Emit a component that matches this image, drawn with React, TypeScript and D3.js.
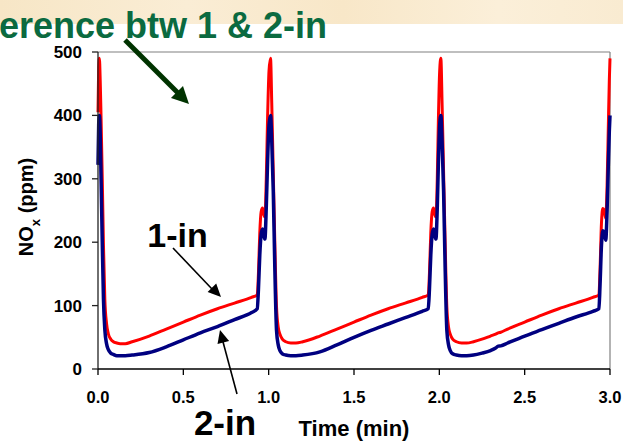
import React from "react";
import * as d3 from "d3";

// ---- data ----
const timeMin = [
  0, 0.004, 0.008, 0.013, 0.018, 0.025, 0.032, 0.04, 0.05, 0.06, 0.075, 0.09, 0.11, 0.13, 0.16, 0.2, 0.3, 0.4, 0.5, 0.6, 0.7, 0.8, 0.9, 0.933,
  0.94, 0.948, 0.956, 0.964, 0.972, 0.978, 0.986, 0.994, 1.002, 1.011, 1.018, 1.027, 1.036, 1.046, 1.056, 1.066, 1.08, 1.1, 1.13, 1.16, 1.2, 1.3, 1.4, 1.5, 1.6, 1.7, 1.8, 1.9, 1.935,
  1.942, 1.95, 1.958, 1.966, 1.974, 1.98, 1.988, 1.995, 2.002, 2.009, 2.016, 2.025, 2.034, 2.044, 2.054, 2.064, 2.078, 2.1, 2.13, 2.16, 2.2, 2.25, 2.3, 2.33, 2.345, 2.36, 2.4, 2.5, 2.6, 2.7, 2.8, 2.9, 2.935,
  2.942, 2.95, 2.958, 2.966, 2.975, 2.983, 2.99, 2.996, 3.0,
];
const red1in = [
  405, 475, 490, 455, 395, 300, 195, 110, 72, 56, 47, 43, 41, 40, 40, 43, 52, 63, 74, 85, 95, 104, 113, 117,
  150, 215, 248, 254, 243, 240, 300, 400, 470, 490, 420, 309, 200, 98, 66, 55, 47, 43, 41, 41, 43, 52, 63, 74, 85, 95, 104, 113, 117,
  150, 215, 248, 254, 243, 240, 300, 400, 470, 490, 420, 309, 200, 98, 66, 55, 47, 43, 41, 41, 43, 47, 52, 55, 57, 58, 63, 74, 85, 95, 104, 113, 117,
  160, 230, 253, 250, 238, 290, 380, 455, 490,
];
const blue2in = [
  322, 385, 400, 370, 300, 200, 110, 62, 40, 31, 25, 23, 21, 21, 21, 22, 26, 35, 46, 57, 67, 78, 89, 95,
  125, 180, 213, 221, 210, 205, 255, 330, 385, 400, 360, 280, 160, 61, 38, 29, 24, 22, 21, 21, 22, 27, 38, 50, 61, 71, 81, 91, 95,
  125, 180, 213, 221, 210, 205, 255, 330, 385, 400, 360, 280, 160, 61, 38, 29, 24, 22, 21, 21, 22, 25, 29, 33, 36, 36.5, 41, 52, 62, 72, 82, 91, 95,
  135, 195, 218, 215, 203, 250, 320, 375, 400,
];
const xTicks = [0, 0.5, 1, 1.5, 2, 2.5, 3];
const yTicks = [0, 100, 200, 300, 400, 500];

const W = 623;
const H = 441;
const FONT = "'Liberation Sans', Arial, Helvetica, sans-serif";

export default function App() {
  const x = d3.scaleLinear().domain([0, 3]).range([98, 610]);
  const y = d3.scaleLinear().domain([0, 500]).range([369, 52]);

  const line = (vals: number[]) =>
    d3
      .line<number>()
      .x((_, i) => x(timeMin[i]))
      .y((v) => y(v))
      .curve(d3.curveMonotoneX)(vals) || "";

  const arrowHead = (x1: number, y1: number, x2: number, y2: number, len: number, wid: number) => {
    const a = Math.atan2(y2 - y1, x2 - x1);
    const bx = x2 - len * Math.cos(a);
    const by = y2 - len * Math.sin(a);
    const px = (wid / 2) * Math.cos(a + Math.PI / 2);
    const py = (wid / 2) * Math.sin(a + Math.PI / 2);
    return `M${x2},${y2}L${bx + px},${by + py}L${bx - px},${by - py}Z`;
  };

  return (
    <svg
      width={W}
      height={H}
      style={{ position: "absolute", left: 0, top: 0, background: "#fff" }}
      fontFamily={FONT}
    >
      <defs>
        <linearGradient id="beige" x1="0" x2="1" y1="0" y2="0">
          <stop offset="0" stopColor="#F7E6C6" />
          <stop offset="0.3" stopColor="#FAEDD5" />
          <stop offset="0.55" stopColor="#F8E7C8" />
          <stop offset="0.8" stopColor="#FBEFD9" />
          <stop offset="1" stopColor="#F9EBD1" />
        </linearGradient>
      </defs>
      <rect x={0} y={0} width={W} height={H} fill="#fff" />
      <rect x={0} y={0} width={W} height={24} fill="url(#beige)" />

      {/* title */}
      <text x={-1} y={38} fontSize={36} fontWeight="bold" fill="#0B6A40">
        erence btw 1 &amp; 2-in
      </text>

      {/* plot frame */}
      <line x1={x(0)} x2={x(3)} y1={y(500)} y2={y(500)} stroke="#808080" strokeWidth={1.2} />
      <line x1={x(3)} x2={x(3)} y1={y(500)} y2={y(0)} stroke="#808080" strokeWidth={1.2} />

      {/* series */}
      <path d={line(red1in)} fill="none" stroke="#FF0000" strokeWidth={3} strokeLinejoin="round" />
      <path d={line(blue2in)} fill="none" stroke="#000080" strokeWidth={3.5} strokeLinejoin="round" />

      {/* axes */}
      <line x1={x(0)} x2={x(0)} y1={y(500)} y2={y(0)} stroke="#222" strokeWidth={1.3} />
      <line x1={x(0)} x2={x(3)} y1={y(0)} y2={y(0)} stroke="#000" strokeWidth={1.3} />
      {yTicks.map((t) => (
        <g key={"y" + t}>
          <line x1={x(0) - 6} x2={x(0)} y1={y(t)} y2={y(t)} stroke="#222" strokeWidth={1.3} />
          <text x={82} y={y(t) + 6} textAnchor="end" fontSize={17} fontWeight="bold" fill="#000">
            {t}
          </text>
        </g>
      ))}
      {xTicks.map((t) => (
        <g key={"x" + t}>
          <line x1={x(t)} x2={x(t)} y1={y(0)} y2={y(0) + 6} stroke="#000" strokeWidth={1.3} />
          <text x={x(t)} y={403} textAnchor="middle" fontSize={16.5} fontWeight="bold" fill="#000">
            {t.toFixed(1)}
          </text>
        </g>
      ))}

      {/* axis titles */}
      <text
        transform="translate(33,207) rotate(-90)"
        textAnchor="middle"
        fontSize={20}
        fontWeight="bold"
        fill="#000"
      >
        NO
        <tspan fontSize={13} dy={7}>x</tspan>
        <tspan dy={-7}> (ppm)</tspan>
      </text>
      <text x={354} y={436} textAnchor="middle" fontSize={22} fontWeight="bold" fill="#000">
        Time (min)
      </text>

      {/* annotations */}
      <line x1={125} y1={40} x2={178} y2={93} stroke="#003300" strokeWidth={5} />
      <path d={arrowHead(125, 40, 189, 104, 17, 17)} fill="#003300" />

      <text x={177.5} y={246.5} textAnchor="middle" fontSize={34} fontWeight="bold" fill="#000">
        1-in
      </text>
      <line x1={173} y1={248} x2={212} y2={289} stroke="#000" strokeWidth={1.6} />
      <path d={arrowHead(173, 248, 221, 297, 13, 12)} fill="#000" />

      <text x={225} y={435} textAnchor="middle" fontSize={35} fontWeight="bold" fill="#000">
        2-in
      </text>
      <line x1={237} y1={394} x2={222.5} y2={340} stroke="#000" strokeWidth={1.6} />
      <path d={arrowHead(237, 394, 220, 330, 13, 12)} fill="#000" />
    </svg>
  );
}
